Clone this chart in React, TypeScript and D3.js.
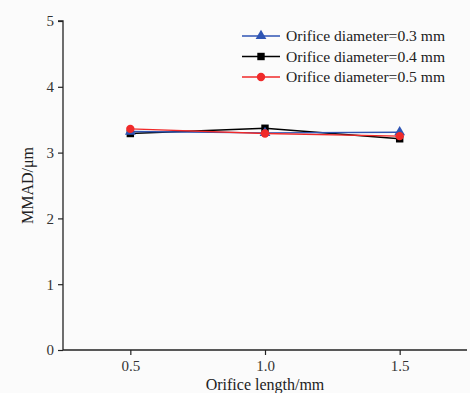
import React, { useRef, useEffect } from 'react';
import * as d3 from 'd3';

const lengths = [0.5, 1.0, 1.5];
const d03 = [3.32, 3.3, 3.31];
const d04 = [3.29, 3.37, 3.21];
const d05 = [3.36, 3.29, 3.25];
const yTicks = [0, 1, 2, 3, 4, 5];
const xTicks = [0.5, 1.0, 1.5];

const series = [
  { name: 'Orifice diameter=0.3 mm', values: d03, color: '#2f55b4', shape: d3.symbolTriangle },
  { name: 'Orifice diameter=0.4 mm', values: d04, color: '#000000', shape: d3.symbolSquare },
  { name: 'Orifice diameter=0.5 mm', values: d05, color: '#f02a2a', shape: d3.symbolCircle },
];

function App() {
  const svgRef = useRef<SVGSVGElement>(null);

  useEffect(() => {
    const width = 470;
    const height = 393;
    const font = '"Liberation Serif", "Times New Roman", serif';
    document.body.style.margin = '0';

    const svg = d3.select(svgRef.current)
      .attr('width', width)
      .attr('height', height)
      .style('display', 'block')
      .style('background', '#fbfbfb');
    svg.selectAll('*').remove();

    const x = d3.scaleLinear().domain([0.25, 1.75]).range([63, 467]);
    const y = d3.scaleLinear().domain([0, 5]).range([350, 21]);

    // axes
    const gx = svg.append('g')
      .attr('transform', `translate(0, ${y(0)})`)
      .call(d3.axisBottom(x).tickValues(xTicks).tickFormat(d3.format('.1f')).tickSize(5).tickPadding(5));
    const gy = svg.append('g')
      .attr('transform', `translate(${x(0.25)}, 0)`)
      .call(d3.axisLeft(y).tickValues(yTicks).tickFormat(d3.format('d')).tickSize(5).tickPadding(4));

    [gx, gy].forEach(g => {
      g.select('.domain').attr('stroke', '#222').attr('stroke-width', 1.3);
      g.selectAll('.tick line').attr('stroke', '#222').attr('stroke-width', 1.2);
      g.selectAll('.tick text')
        .attr('fill', '#333')
        .style('font-family', font)
        .style('font-size', '15px');
    });
    gx.select('.domain').attr('d', `M${x(0.25)},0H${x(1.75)}`);
    gy.select('.domain').attr('d', `M0,${y(0)}V${y(5)}H-5`);

    svg.append('text')
      .attr('x', 265)
      .attr('y', 390)
      .attr('text-anchor', 'middle')
      .style('font-family', font)
      .style('font-size', '16px')
      .attr('fill', '#222')
      .text('Orifice length/mm');

    svg.append('text')
      .attr('transform', `translate(33, ${y(2.5)}) rotate(-90)`)
      .attr('text-anchor', 'middle')
      .style('font-family', font)
      .style('font-size', '16px')
      .attr('fill', '#222')
      .text('MMAD/μm');

    // lines: black, blue, red order
    const order = [1, 0, 2];
    const line = d3.line<number>()
      .x((d, i) => x(lengths[i]))
      .y(d => y(d));

    order.forEach(k => {
      const s = series[k];
      svg.append('path')
        .datum(s.values)
        .attr('d', line)
        .attr('fill', 'none')
        .attr('stroke', s.color)
        .attr('stroke-width', 1.4);
    });
    order.forEach(k => {
      const s = series[k];
      const sym = d3.symbol().type(s.shape).size(s.shape === d3.symbolTriangle ? 50 : 55);
      svg.append('g').selectAll('path')
        .data(s.values)
        .join('path')
        .attr('d', sym)
        .attr('transform', (d, i) => `translate(${x(lengths[i])}, ${y(d)})`)
        .attr('fill', s.color);
    });

    // legend
    const legend = svg.append('g');
    series.forEach((s, i) => {
      const ly = 36 + i * 20.5;
      legend.append('line')
        .attr('x1', 242).attr('x2', 280)
        .attr('y1', ly).attr('y2', ly)
        .attr('stroke', s.color)
        .attr('stroke-width', 1.4);
      legend.append('path')
        .attr('d', d3.symbol().type(s.shape).size(s.shape === d3.symbolTriangle ? 50 : 55)())
        .attr('transform', `translate(261, ${ly})`)
        .attr('fill', s.color);
      legend.append('text')
        .attr('x', 286)
        .attr('y', ly)
        .attr('dy', '0.35em')
        .style('font-family', font)
        .style('font-size', '15.6px')
        .attr('fill', '#222')
        .text(s.name);
    });
  }, []);

  return <svg ref={svgRef}></svg>;
}

export default App;
